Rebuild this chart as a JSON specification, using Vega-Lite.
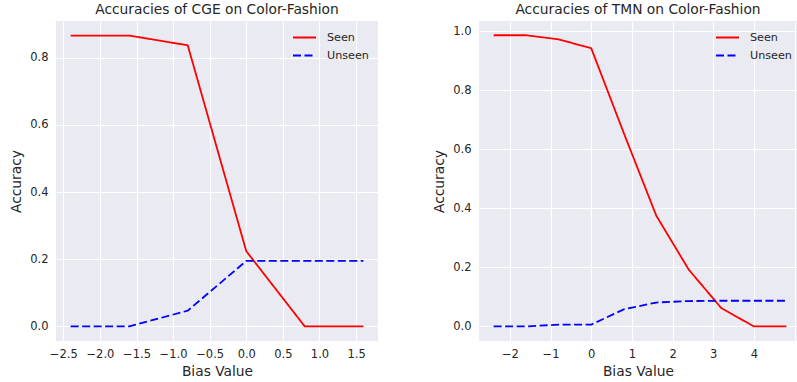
{
  "$schema": "https://vega.github.io/schema/vega-lite/v6.json",
  "background": "white",
  "padding": {"left": 9, "top": 3, "right": 0, "bottom": 0},
  "bounds": "flush",
  "spacing": 101,
  "config": {
    "view": {"fill": "#EAEAF2", "stroke": null},
    "axis": {
      "domain": false, "ticks": false, "gridColor": "white", "gridWidth": 1.1,
      "labelColor": "#262626", "labelFont": "DejaVu Sans", "labelFontSize": 11.5,
      "titleFont": "DejaVu Sans", "titleFontSize": 13.8, "titleFontWeight": "normal", "titleColor": "#262626"
    },
    "axisX": {"labelPadding": 7, "titlePadding": 5},
    "axisY": {"labelPadding": 8, "titlePadding": 6},
    "title": {"font": "DejaVu Sans", "fontSize": 13.8, "fontWeight": "normal", "color": "#262626", "offset": 4},
    "legend": {
      "orient": "none", "legendX": 236, "legendY": 4, "title": null,
      "labelFont": "DejaVu Sans", "labelFontSize": 11.2, "labelColor": "#262626",
      "symbolType": "stroke", "symbolSize": 529, "symbolStrokeWidth": 2,
      "labelOffset": 10, "rowPadding": -8, "padding": 0
    }
  },
  "datasets": {
    "cge": [
      {"bias": -2.4, "series": "Seen", "acc": 0.866},
      {"bias": -1.6, "series": "Seen", "acc": 0.866},
      {"bias": -0.8, "series": "Seen", "acc": 0.837},
      {"bias": 0.0, "series": "Seen", "acc": 0.224},
      {"bias": 0.8, "series": "Seen", "acc": 0.0},
      {"bias": 1.6, "series": "Seen", "acc": 0.0},
      {"bias": -2.4, "series": "Unseen", "acc": 0.0},
      {"bias": -1.6, "series": "Unseen", "acc": 0.0},
      {"bias": -0.8, "series": "Unseen", "acc": 0.047},
      {"bias": 0.0, "series": "Unseen", "acc": 0.195},
      {"bias": 0.8, "series": "Unseen", "acc": 0.195},
      {"bias": 1.6, "series": "Unseen", "acc": 0.195}
    ],
    "tmn": [
      {"bias": -2.4, "series": "Seen", "acc": 0.986},
      {"bias": -1.6, "series": "Seen", "acc": 0.986},
      {"bias": -0.8, "series": "Seen", "acc": 0.972},
      {"bias": 0.0, "series": "Seen", "acc": 0.942},
      {"bias": 0.8, "series": "Seen", "acc": 0.655},
      {"bias": 1.6, "series": "Seen", "acc": 0.375},
      {"bias": 2.4, "series": "Seen", "acc": 0.192},
      {"bias": 3.2, "series": "Seen", "acc": 0.062},
      {"bias": 4.0, "series": "Seen", "acc": 0.0},
      {"bias": 4.8, "series": "Seen", "acc": 0.0},
      {"bias": -2.4, "series": "Unseen", "acc": 0.0},
      {"bias": -1.6, "series": "Unseen", "acc": 0.0},
      {"bias": -0.8, "series": "Unseen", "acc": 0.006},
      {"bias": 0.0, "series": "Unseen", "acc": 0.006},
      {"bias": 0.8, "series": "Unseen", "acc": 0.058},
      {"bias": 1.6, "series": "Unseen", "acc": 0.081},
      {"bias": 2.4, "series": "Unseen", "acc": 0.086},
      {"bias": 3.2, "series": "Unseen", "acc": 0.087},
      {"bias": 4.0, "series": "Unseen", "acc": 0.087},
      {"bias": 4.8, "series": "Unseen", "acc": 0.087}
    ]
  },
  "hconcat": [
    {
      "width": 322, "height": 320,
      "title": "Accuracies of CGE on Color-Fashion",
      "data": {"name": "cge"},
      "mark": {"type": "line", "strokeWidth": 1.8, "clip": true},
      "encoding": {
        "x": {"field": "bias", "type": "quantitative", "title": "Bias Value",
              "scale": {"domain": [-2.6, 1.8], "nice": false, "zero": false},
              "axis": {"values": [-2.5, -2.0, -1.5, -1.0, -0.5, 0.0, 0.5, 1.0, 1.5], "format": ".1f"}},
        "y": {"field": "acc", "type": "quantitative", "title": "Accuracy",
              "scale": {"domain": [-0.0433, 0.9093], "nice": false, "zero": false},
              "axis": {"values": [0.0, 0.2, 0.4, 0.6, 0.8], "format": ".1f"}},
        "color": {"field": "series", "type": "nominal",
                  "scale": {"domain": ["Seen", "Unseen"], "range": ["#FF0000", "#0000FF"]}},
        "strokeDash": {"field": "series", "type": "nominal",
                  "scale": {"domain": ["Seen", "Unseen"], "range": [[1, 0], [8, 3.5]]}}
      }
    },
    {
      "width": 318, "height": 320,
      "title": "Accuracies of TMN on Color-Fashion",
      "data": {"name": "tmn"},
      "mark": {"type": "line", "strokeWidth": 1.8, "clip": true},
      "encoding": {
        "x": {"field": "bias", "type": "quantitative", "title": "Bias Value",
              "scale": {"domain": [-2.76, 5.06], "nice": false, "zero": false},
              "axis": {"values": [-2, -1, 0, 1, 2, 3, 4, 5], "format": "d", "labelExpr": "datum.value == 5 ? '' : datum.label"}},
        "y": {"field": "acc", "type": "quantitative", "title": "Accuracy",
              "scale": {"domain": [-0.0493, 1.0343], "nice": false, "zero": false},
              "axis": {"values": [0.0, 0.2, 0.4, 0.6, 0.8, 1.0], "format": ".1f"}},
        "color": {"field": "series", "type": "nominal",
                  "scale": {"domain": ["Seen", "Unseen"], "range": ["#FF0000", "#0000FF"]}},
        "strokeDash": {"field": "series", "type": "nominal",
                  "scale": {"domain": ["Seen", "Unseen"], "range": [[1, 0], [8, 3.5]]}}
      }
    }
  ],
  "resolve": {
    "scale": {"x": "independent", "y": "independent", "color": "independent", "strokeDash": "independent"},
    "legend": {"color": "independent", "strokeDash": "independent"}
  }
}
